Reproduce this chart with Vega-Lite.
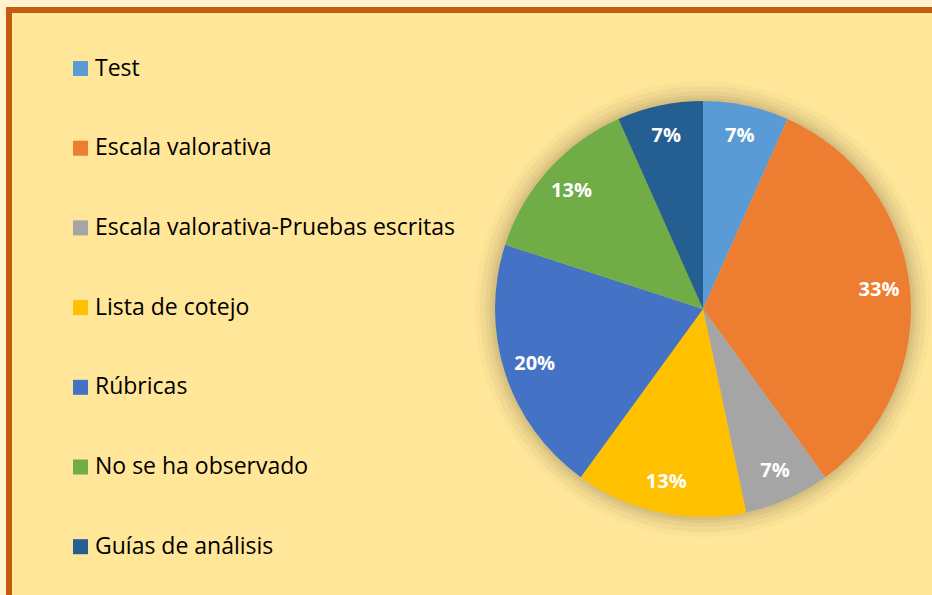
{
  "$schema": "https://vega.github.io/schema/vega-lite/v6.json",
  "autosize": "none",
  "width": 1388,
  "height": 598,
  "padding": {"left": 9, "top": 10, "right": -465, "bottom": -13},
  "background": "#FFF2CC",
  "view": {"fill": "#FFE699", "stroke": "#C55A11", "strokeWidth": 6},
  "config": {
    "view": {"fill": "#FFE699", "stroke": "#C55A11", "strokeWidth": 6},
    "font": "Open Sans"
  },
  "data": {
    "values": [
      {"categoria": "Test", "valor": 1, "etiqueta": "7%", "orden": 1},
      {"categoria": "Escala valorativa", "valor": 5, "etiqueta": "33%", "orden": 2},
      {"categoria": "Escala valorativa-Pruebas escritas", "valor": 1, "etiqueta": "7%", "orden": 3},
      {"categoria": "Lista de cotejo", "valor": 2, "etiqueta": "13%", "orden": 4},
      {"categoria": "Rúbricas", "valor": 3, "etiqueta": "20%", "orden": 5},
      {"categoria": "No se ha observado", "valor": 2, "etiqueta": "13%", "orden": 6},
      {"categoria": "Guías de análisis", "valor": 1, "etiqueta": "7%", "orden": 7}
    ]
  },
  "encoding": {
    "theta": {"field": "valor", "type": "quantitative", "stack": true},
    "order": {"field": "orden", "type": "quantitative"}
  },
  "layer": [
    {"mark": {"type": "arc", "radius": 228, "fill": "#000000", "opacity": 0.02}},
    {"mark": {"type": "arc", "radius": 223, "fill": "#000000", "opacity": 0.03}},
    {"mark": {"type": "arc", "radius": 218, "fill": "#000000", "opacity": 0.035}},
    {"mark": {"type": "arc", "radius": 214, "fill": "#000000", "opacity": 0.04}},
    {"mark": {"type": "arc", "radius": 211, "fill": "#000000", "opacity": 0.04}},
    {
      "mark": {"type": "arc", "radius": 208},
      "encoding": {
        "color": {
          "field": "categoria",
          "type": "nominal",
          "scale": {
            "domain": ["Test", "Escala valorativa", "Escala valorativa-Pruebas escritas", "Lista de cotejo", "Rúbricas", "No se ha observado", "Guías de análisis"],
            "range": ["#5B9BD5", "#ED7D31", "#A5A5A5", "#FFC000", "#4472C4", "#70AD47", "#255E91"]
          },
          "legend": {
            "title": null,
            "orient": "none",
            "legendX": 60,
            "legendY": 47,
            "symbolType": "square",
            "symbolSize": 225,
            "symbolStrokeWidth": 0,
            "labelFont": "Open Sans",
            "labelFontSize": 23,
            "labelColor": "#000000",
            "labelOffset": 3,
            "rowPadding": 55.7,
            "labelLimit": 500,
            "padding": 0
          }
        }
      }
    },
    {
      "mark": {"type": "text", "radius": 177, "fill": "#FFFFFF", "font": "Open Sans", "fontWeight": "bold", "fontSize": 20},
      "encoding": {"text": {"field": "etiqueta", "type": "nominal"}}
    }
  ]
}
